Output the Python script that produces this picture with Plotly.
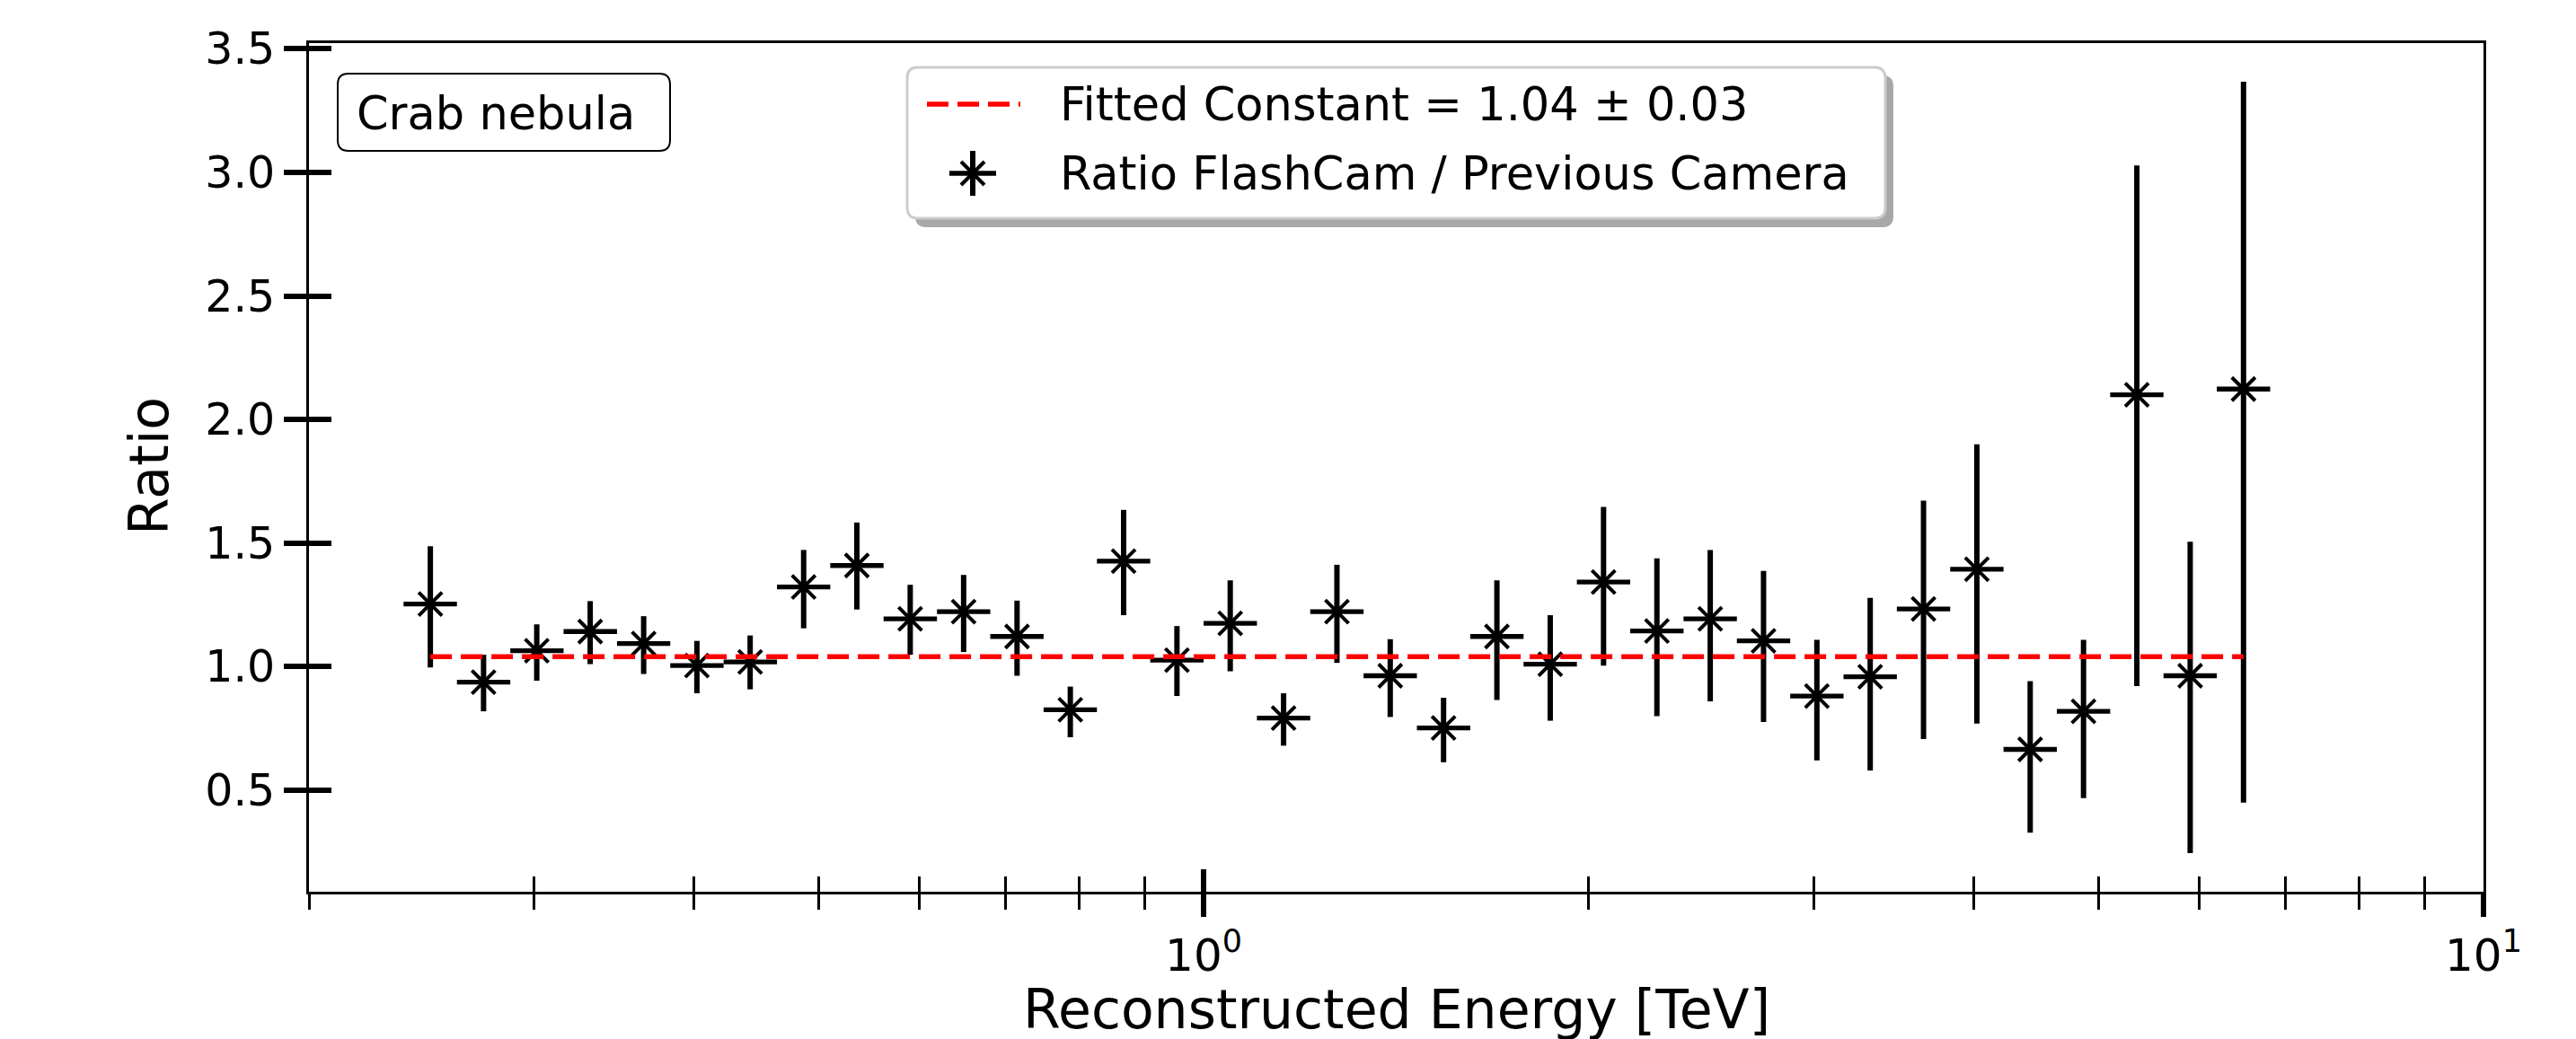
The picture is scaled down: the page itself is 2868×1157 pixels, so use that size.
import math
import plotly.graph_objects as go

# ---------------- data ----------------
energy_center = [0.2488, 0.2738, 0.3013, 0.3317, 0.3652, 0.4019, 0.4423, 0.4870,
                 0.5359, 0.5899, 0.6494, 0.7149, 0.7868, 0.8660, 0.9532, 1.0491,
                 1.1548, 1.2711, 1.3990, 1.5399, 1.6950, 1.8657, 2.0535, 2.2603,
                 2.4880, 2.7384, 3.0142, 3.3177, 3.6517, 4.0194, 4.4242, 4.8697,
                 5.3600, 5.8997, 6.4938]
bin_edges = [0.2371, 0.2610, 0.2873, 0.3162, 0.3481, 0.3831, 0.4217, 0.4642,
             0.5109, 0.5623, 0.6190, 0.6813, 0.7499, 0.8254, 0.9085, 1.0000,
             1.1007, 1.2115, 1.3335, 1.4678, 1.6156, 1.7783, 1.9573, 2.1544,
             2.3714, 2.6102, 2.8730, 3.1623, 3.4807, 3.8312, 4.2170, 4.6416,
             5.1090, 5.6234, 6.1897, 6.8129]
ratio = [1.253, 0.937, 1.064, 1.142, 1.093, 1.004, 1.019, 1.322, 1.409, 1.193,
         1.222, 1.122, 0.825, 1.427, 1.026, 1.175, 0.792, 1.222, 0.963, 0.752,
         1.122, 1.010, 1.342, 1.144, 1.193, 1.104, 0.881, 0.959, 1.233, 1.394,
         0.665, 0.819, 2.100, 0.963, 2.123]
ratio_err_up = [0.234, 0.111, 0.107, 0.123, 0.111, 0.100, 0.107, 0.150, 0.174, 0.138,
                0.149, 0.145, 0.094, 0.207, 0.138, 0.174, 0.100, 0.190, 0.148, 0.122,
                0.227, 0.198, 0.304, 0.294, 0.279, 0.283, 0.227, 0.319, 0.439, 0.506,
                0.276, 0.289, 0.928, 0.542, 1.244]
ratio_err_down = [0.256, 0.118, 0.121, 0.132, 0.123, 0.112, 0.111, 0.167, 0.178, 0.145,
                  0.163, 0.159, 0.111, 0.219, 0.145, 0.194, 0.112, 0.207, 0.167, 0.139,
                  0.257, 0.229, 0.338, 0.345, 0.334, 0.328, 0.261, 0.379, 0.526, 0.625,
                  0.337, 0.351, 1.179, 0.718, 1.673]
fit_constant = 1.04
fit_error = 0.03
y_tick_vals = [0.5, 1.0, 1.5, 2.0, 2.5, 3.0, 3.5]
x_major_vals = [1, 10]
x_major_text = ["10<sup>0</sup>", "10<sup>1</sup>"]
x_minor_vals = [0.2, 0.3, 0.4, 0.5, 0.6, 0.7, 0.8, 0.9, 2, 3, 4, 5, 6, 7, 8, 9]
x_range = [0.2, 10]
y_range = [0.089, 3.523]

x_title = "Reconstructed Energy [TeV]"
y_title = "Ratio"
legend_fit_text = f"Fitted Constant = {fit_constant:.2f} ± {fit_error:.2f}"
legend_ratio_text = "Ratio FlashCam / Previous Camera"
source_text = "Crab nebula"

x_err_minus = [c - lo for c, lo in zip(energy_center, bin_edges[:-1])]
x_err_plus = [hi - c for c, hi in zip(energy_center, bin_edges[1:])]

# ---------------- layout geometry (pixels) ----------------
W, H = 2868, 1157
ML, MR, MT, MB = 344, 103, 48, 164
PX0, PX1 = ML, W - MR
PY0, PY1 = MT, H - MB
FONT = "DejaVu Sans"


def pxx(px):
    return (px - PX0) / (PX1 - PX0)


def pxy(py):
    return (PY1 - py) / (PY1 - PY0)


def rounded_rect(x0, y0, x1, y1, r):
    X = lambda v: f"{pxx(v):.5f}"
    Y = lambda v: f"{pxy(v):.5f}"
    return (f"M {X(x0 + r)},{Y(y0)} L {X(x1 - r)},{Y(y0)} Q {X(x1)},{Y(y0)} {X(x1)},{Y(y0 + r)} "
            f"L {X(x1)},{Y(y1 - r)} Q {X(x1)},{Y(y1)} {X(x1 - r)},{Y(y1)} "
            f"L {X(x0 + r)},{Y(y1)} Q {X(x0)},{Y(y1)} {X(x0)},{Y(y1 - r)} "
            f"L {X(x0)},{Y(y0 + r)} Q {X(x0)},{Y(y0)} {X(x0 + r)},{Y(y0)} Z")


fig = go.Figure()

fig.add_trace(go.Scatter(
    x=energy_center, y=ratio, mode="markers",
    marker=dict(symbol="x-thin", size=26, color="black",
                line=dict(color="black", width=4)),
    error_y=dict(type="data", symmetric=False, array=ratio_err_up,
                 arrayminus=ratio_err_down, thickness=6, width=0, color="black"),
    error_x=dict(type="data", symmetric=False, array=x_err_plus,
                 arrayminus=x_err_minus, thickness=5.3, width=0, color="black"),
    showlegend=False, hoverinfo="skip"))

fig.add_trace(go.Scatter(
    x=[energy_center[0], energy_center[-1]], y=[fit_constant, fit_constant],
    mode="lines", line=dict(color="red", width=5.5, dash="24px,10px"),
    showlegend=False, hoverinfo="skip"))

# dummy trace to activate the overlay axes (inward ticks)
fig.add_trace(go.Scatter(x=[None], y=[None], xaxis="x2", yaxis="y2",
                         showlegend=False, hoverinfo="skip"))

logr = [math.log10(x_range[0]), math.log10(x_range[1])]
tickfont = dict(family=FONT, size=49, color="black")

fig.update_layout(
    width=W, height=H,
    margin=dict(l=ML, r=MR, t=MT, b=MB, pad=0, autoexpand=False),
    paper_bgcolor="white", plot_bgcolor="white",
    font=dict(family=FONT, color="black"),
    showlegend=False,
    xaxis=dict(type="log", range=logr, showline=True, linecolor="black", linewidth=3,
               mirror=True, ticks="outside", ticklen=25, tickwidth=6, tickcolor="black",
               tickmode="array", tickvals=x_major_vals, ticktext=x_major_text,
               tickfont=dict(family=FONT, size=50, color="black"),
               showgrid=False, zeroline=False, automargin=False,
               minor=dict(ticks="outside", ticklen=17, tickwidth=3, tickcolor="black",
                          tickmode="array", tickvals=x_minor_vals, showgrid=False)),
    xaxis2=dict(type="log", range=logr, overlaying="x", anchor="y2", side="bottom",
                showline=False, ticks="inside", ticklen=25, tickwidth=6, tickcolor="black",
                tickmode="array", tickvals=x_major_vals, showticklabels=False,
                showgrid=False, zeroline=False, automargin=False,
                minor=dict(ticks="inside", ticklen=17, tickwidth=3, tickcolor="black",
                           tickmode="array", tickvals=x_minor_vals, showgrid=False)),
    yaxis=dict(range=y_range, showline=True, linecolor="black", linewidth=3, mirror=True,
               ticks="outside", ticklen=25, tickwidth=6, tickcolor="black",
               tickmode="array", tickvals=y_tick_vals, tickformat=".1f",
               tickfont=tickfont, showgrid=False, zeroline=False, automargin=False),
    yaxis2=dict(range=y_range, overlaying="y", anchor="x2", side="left",
                showline=False, ticks="inside", ticklen=25, tickwidth=6, tickcolor="black",
                tickmode="array", tickvals=y_tick_vals, showticklabels=False,
                showgrid=False, zeroline=False, automargin=False),
)

shapes = []
# legend box with shadow
shapes.append(dict(type="path", xref="paper", yref="paper",
                   path=rounded_rect(1019, 84, 2108, 253, 12),
                   fillcolor="#a8a8a8", line=dict(width=0), layer="above"))
shapes.append(dict(type="path", xref="paper", yref="paper",
                   path=rounded_rect(1010, 75, 2099, 243, 12),
                   fillcolor="white", line=dict(color="#cccccc", width=3), layer="above"))
# legend line sample
shapes.append(dict(type="line", xref="paper", yref="paper",
                   x0=pxx(1032), x1=pxx(1136), y0=pxy(116), y1=pxy(116),
                   line=dict(color="red", width=5.5, dash="24px,10px"), layer="above"))
# legend errorbar-marker sample
lx, ly = 1083, 193
shapes.append(dict(type="line", xref="paper", yref="paper",
                   x0=pxx(lx - 26), x1=pxx(lx + 26), y0=pxy(ly), y1=pxy(ly),
                   line=dict(color="black", width=5.3), layer="above"))
shapes.append(dict(type="line", xref="paper", yref="paper",
                   x0=pxx(lx), x1=pxx(lx), y0=pxy(ly - 25), y1=pxy(ly + 25),
                   line=dict(color="black", width=6), layer="above"))
for s in (1, -1):
    shapes.append(dict(type="line", xref="paper", yref="paper",
                       x0=pxx(lx - 13), x1=pxx(lx + 13), y0=pxy(ly - 13 * s), y1=pxy(ly + 13 * s),
                       line=dict(color="black", width=4), layer="above"))
# Crab nebula box
shapes.append(dict(type="path", xref="paper", yref="paper",
                   path=rounded_rect(376, 82, 746, 168, 12),
                   fillcolor="white", line=dict(color="black", width=2), layer="above"))
fig.update_layout(shapes=shapes)

annotations = [
    dict(text=legend_fit_text, x=pxx(1178), y=pxy(117), xref="paper", yref="paper",
         xanchor="left", yanchor="middle", showarrow=False,
         font=dict(family=FONT, size=51, color="black")),
    dict(text=legend_ratio_text, x=pxx(1178), y=pxy(194), xref="paper", yref="paper",
         xanchor="left", yanchor="middle", showarrow=False,
         font=dict(family=FONT, size=51, color="black")),
    dict(text=source_text, x=pxx(395), y=pxy(127), xref="paper", yref="paper",
         xanchor="left", yanchor="middle", showarrow=False,
         font=dict(family=FONT, size=51, color="black")),
    dict(text=x_title, x=pxx(1555), y=pxy(1124), xref="paper", yref="paper",
         xanchor="center", yanchor="middle", showarrow=False,
         font=dict(family=FONT, size=60, color="black")),
    dict(text=y_title, x=pxx(166), y=pxy(519), xref="paper", yref="paper",
         xanchor="center", yanchor="middle", showarrow=False, textangle=-90,
         font=dict(family=FONT, size=60, color="black")),
]
fig.update_layout(annotations=annotations)

fig.write_html("out.html")
